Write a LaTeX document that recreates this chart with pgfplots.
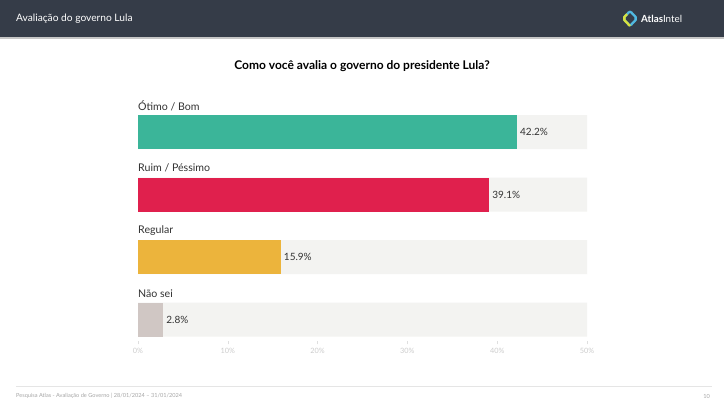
\documentclass[border=0pt]{standalone}
\usepackage{pgfplots}
\pgfplotsset{compat=1.18}
\usepackage{fontspec}
\setmainfont{Lato}
\definecolor{hdr}{HTML}{353C48}
\definecolor{cgood}{HTML}{3BB599}
\definecolor{cbad}{HTML}{E0204D}
\definecolor{creg}{HTML}{ECB43C}
\definecolor{cns}{HTML}{D0C7C4}
\definecolor{cbg}{HTML}{F3F3F1}
\definecolor{ctext}{HTML}{333333}
\definecolor{logob}{RGB}{80,185,225}
\definecolor{logoy}{RGB}{215,225,60}
\begin{document}
\begin{tikzpicture}[x=1pt,y=1pt]
\useasboundingbox (0,0) rectangle (724,-407);
\fill[white] (0,0) rectangle (724,-407);
% header
\fill[hdr] (0,0) rectangle (724,-37);
\fill[gray!45] (0,-37) rectangle (724,-38.5);
\node[anchor=west,text=white,font=\fontsize{10.2}{12}\selectfont,inner sep=0] at (16,-18.5) {Avaliação do governo Lula};
% logo
\draw[line width=2.3pt,color=logob,rounded corners=2pt] (630,-11) -- (637,-18.5) -- (630,-26) -- (623,-18.5) -- cycle;
\draw[line width=2.3pt,color=logoy,rounded corners=2pt] (630,-26) -- (623,-18.5) -- (627,-14.2);
\node[anchor=west,text=white,font=\fontsize{9.8}{11}\selectfont,inner sep=0] at (641,-18.5) {\textbf{Atlas}Intel};
% title
\node[font=\bfseries\fontsize{12}{14}\selectfont,text=black] at (362,-66) {Como você avalia o governo do presidente Lula?};
% footer
\draw[gray!20,line width=0.6pt] (16,-386) -- (712,-386);
\node[anchor=west,text=gray!70,font=\fontsize{5.6}{6}\selectfont,inner sep=0] at (16,-396) {Pesquisa Atlas - Avaliação de Governo | 28/01/2024 -- 31/01/2024};
\node[anchor=east,text=gray!70,font=\fontsize{5.6}{6}\selectfont,inner sep=0] at (710,-396) {10};
\coordinate (A) at (138,-341.4);
\begin{axis}[
  at={(A)}, anchor=south west,
  scale only axis, width=449pt, height=240.6pt,
  xmin=0, xmax=50, ymin=-0.35, ymax=3.5,
  axis line style={draw=none},
  ytick=\empty,
  xtick={0,10,20,30,40,50},
  xticklabel={\pgfmathprintnumber{\tick}\%},
  tick align=outside, tick pos=bottom,
  major tick length=3pt,
  x tick style={draw=gray!25,line width=0.5pt},
  x tick label style={text=gray!40,font=\fontsize{7.3}{8}\selectfont},
  /pgf/number format/assume math mode=true,
  xbar, bar width=34pt, bar shift=0pt,
  clip=false,
  nodes near coords style={font=\fontsize{10}{11}\selectfont,text=ctext,anchor=west,inner xsep=3pt},
]
\addplot[fill=cbg,draw=none] coordinates {(50,3) (50,2) (50,1) (50,0)};
\addplot[fill=cgood,draw=none,nodes near coords={\pgfmathprintnumber[fixed,precision=1,fixed zerofill]{\pgfplotspointmeta}\%},point meta=x] coordinates {(42.2,3)};
\addplot[fill=cbad,draw=none,nodes near coords={\pgfmathprintnumber[fixed,precision=1,fixed zerofill]{\pgfplotspointmeta}\%},point meta=x] coordinates {(39.1,2)};
\addplot[fill=creg,draw=none,nodes near coords={\pgfmathprintnumber[fixed,precision=1,fixed zerofill]{\pgfplotspointmeta}\%},point meta=x] coordinates {(15.9,1)};
\addplot[fill=cns,draw=none,nodes near coords={\pgfmathprintnumber[fixed,precision=1,fixed zerofill]{\pgfplotspointmeta}\%},point meta=x] coordinates {(2.8,0)};
\node[anchor=west,inner sep=0,font=\fontsize{10.6}{12}\selectfont,text=ctext] at (axis cs:0,3.42) {Ótimo / Bom};
\node[anchor=west,inner sep=0,font=\fontsize{10.6}{12}\selectfont,text=ctext] at (axis cs:0,2.42) {Ruim / Péssimo};
\node[anchor=west,inner sep=0,font=\fontsize{10.6}{12}\selectfont,text=ctext] at (axis cs:0,1.42) {Regular};
\node[anchor=west,inner sep=0,font=\fontsize{10.6}{12}\selectfont,text=ctext] at (axis cs:0,0.42) {Não sei};
\end{axis}
\end{tikzpicture}
\end{document}
